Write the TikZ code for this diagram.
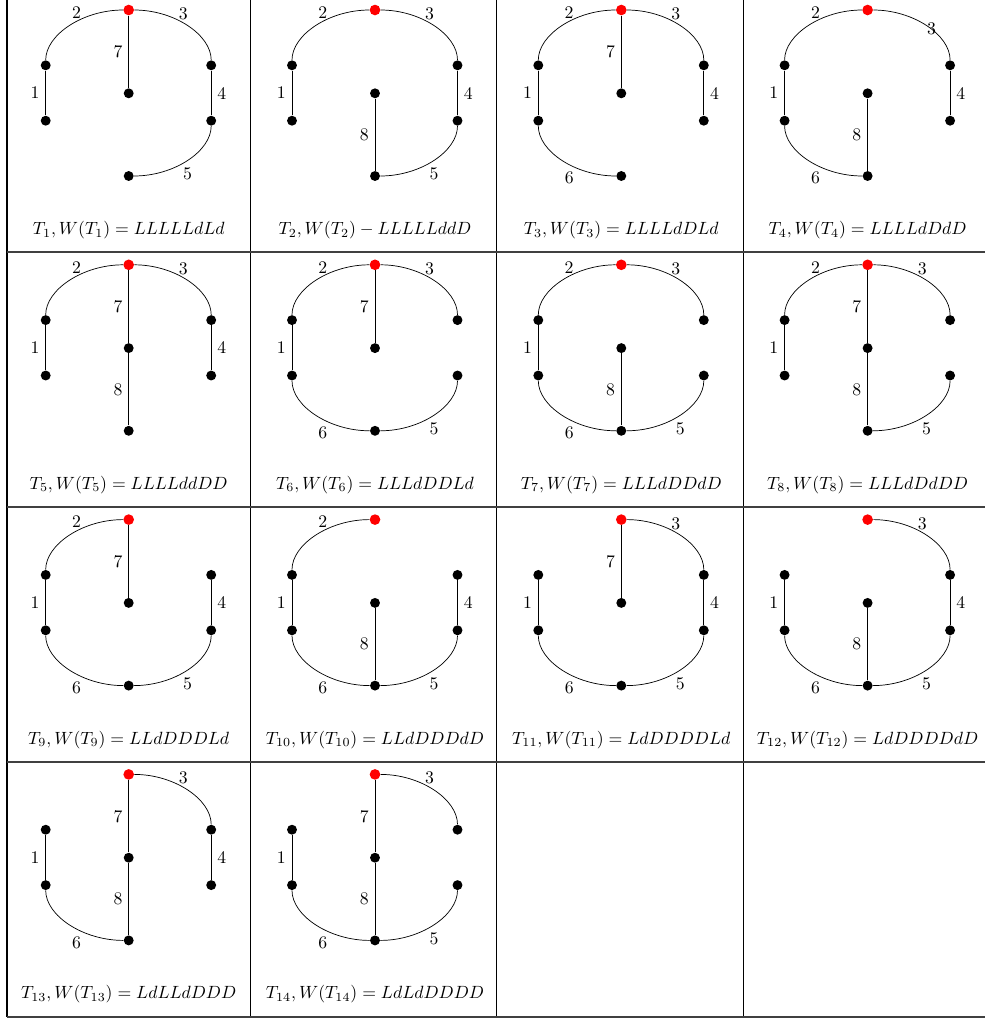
\documentclass[tikz,border=0pt]{standalone}
\usetikzlibrary{positioning}

\tikzset{
  vertex/.style={circle, fill=black, inner sep=0pt, minimum size=5.6pt},
  rootvertex/.style={vertex, fill=red, minimum size=6pt},
  lbl/.style={inner sep=1.5pt},
  lblfar/.style={inner sep=4pt},
  rule/.style={line width=0.7pt},
}

% one edge #2 of tree #1
\newcommand{\treeedge}[2]{%
  \ifcase#2 \or
    \draw (lu#1) -- node[left] {1} (ll#1);\or
    \draw (r#1) .. controls +(-45.8,0) and +(0,30.5) .. (lu#1)
      node[lbl, above, pos=0.42] {2};\or
    \draw (r#1) .. controls +(45.5,0) and +(0,30.5) .. (ru#1)
      node[lbl, above, pos=0.45] {3};\or
    \draw (ru#1) -- node[right] {4} (rl#1);\or
    \draw (rl#1) .. controls +(0,-30.5) and +(45.5,0) .. (b#1)
      node[lblfar, below, pos=0.5] {5};\or
    \draw (ll#1) .. controls +(0,-30.5) and +(-45.8,0) .. (b#1)
      node[lblfar, below, pos=0.58] {6};\or
    \draw (r#1) -- node[left] {7} (c#1);\or
    \draw (c#1) -- node[left] {8} (b#1);\or
    \draw (r#1) .. controls +(45.5,0) and +(0,30.5) .. (ru#1)
      node[lbl, pos=0.56] {3};%
  \fi}

\begin{document}
\begin{tikzpicture}[x=0.5646pt, y=0.5646pt]
  \useasboundingbox (0,0) rectangle (985,-1020);

  % table rules
  \foreach \gx in {7,250.5,496.7,743.3}
    \draw[rule] (\gx,0) -- (\gx,-1017);
  \foreach \gy in {252,507,762,1017}
    \draw[rule, black!75] (7,-\gy) -- (985,-\gy);

  % the fourteen trees
  \foreach \n/\tcol/\trow/\tedges/\tword in {
      1/0/0/{1,2,3,4,5,7}/{=LLLLLdLd},
      2/1/0/{1,2,3,4,5,8}/{-LLLLLddD},
      3/2/0/{1,2,3,4,6,7}/{=LLLLdDLd},
      4/3/0/{1,2,9,4,6,8}/{=LLLLdDdD},
      5/0/1/{1,2,3,4,7,8}/{=LLLLddDD},
      6/1/1/{1,2,3,5,6,7}/{=LLLdDDLd},
      7/2/1/{1,2,3,5,6,8}/{=LLLdDDdD},
      8/3/1/{1,2,3,5,7,8}/{=LLLdDdDD},
      9/0/2/{1,2,4,5,6,7}/{=LLdDDDLd},
      10/1/2/{1,2,4,5,6,8}/{=LLdDDDdD},
      11/2/2/{1,3,4,5,6,7}/{=LdDDDDLd},
      12/3/2/{1,3,4,5,6,8}/{=LdDDDDdD},
      13/0/3/{1,3,4,6,7,8}/{=LdLLdDDD},
      14/1/3/{1,3,5,6,7,8}/{=LdLdDDDD}} {
    \begin{scope}[shift={({128.7+246.3*\tcol},{-10-254.8*\trow})}]
      \node[rootvertex] (r\n) at (0,0) {};
      \node[vertex] (lu\n) at (-83,-55.3) {};
      \node[vertex] (ll\n) at (-83,-110.7) {};
      \node[vertex] (c\n) at (0,-83.3) {};
      \node[vertex] (ru\n) at (82.5,-55.3) {};
      \node[vertex] (rl\n) at (82.5,-110.7) {};
      \node[vertex] (b\n) at (0,-166) {};
      \node (cap\n) at (0,-220) {$T_{\n}, W(T_{\n}) \tword$};
      \foreach \e in \tedges {\treeedge{\n}{\e}}
    \end{scope}
  }
\end{tikzpicture}
\end{document}
